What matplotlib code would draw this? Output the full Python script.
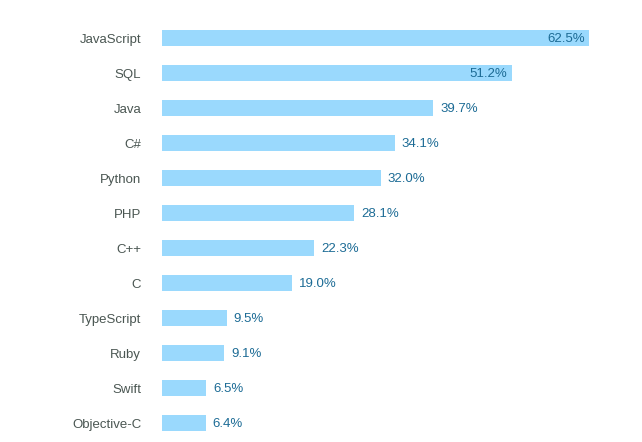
import matplotlib
matplotlib.use("Agg")
import matplotlib.pyplot as plt

languages = ["JavaScript", "SQL", "Java", "C#", "Python", "PHP", "C++", "C",
             "TypeScript", "Ruby", "Swift", "Objective-C"]
shares = [62.5, 51.2, 39.7, 34.1, 32.0, 28.1, 22.3, 19.0, 9.5, 9.1, 6.5, 6.4]

plt.rcParams['font.family'] = ['Liberation Sans', 'DejaVu Sans']

fig = plt.figure(figsize=(6.42, 4.42), dpi=100)
ax = fig.add_axes([162/642, 1.5/442, (589-162)/642, 420/442])

ypos = list(range(len(languages)))
ax.barh(ypos, shares, height=0.45, color='#9ad9fd')
ax.set_xlim(0, 62.5)
ax.set_ylim(11.5, -0.5)
ax.set_yticks(ypos)
ax.set_yticklabels(languages, fontsize=9.5, color='#4a5652')
ax.tick_params(axis='y', length=0, pad=15)
for lbl in ax.get_yticklabels():
    lbl.set_y(lbl.get_position()[1])
ax.set_xticks([])
for s in ax.spines.values():
    s.set_visible(False)

for y, v in zip(ypos, shares):
    txt = "%.1f%%" % v
    if v > 45:
        ax.annotate(txt, (v, y), xytext=(-3, -1), textcoords='offset points',
                    ha='right', va='center', fontsize=9.5, color='#1c6b95')
    else:
        ax.annotate(txt, (v, y), xytext=(5, -1), textcoords='offset points',
                    ha='left', va='center', fontsize=9.5, color='#1c6b95')

fig.savefig("out.png", dpi=100)
